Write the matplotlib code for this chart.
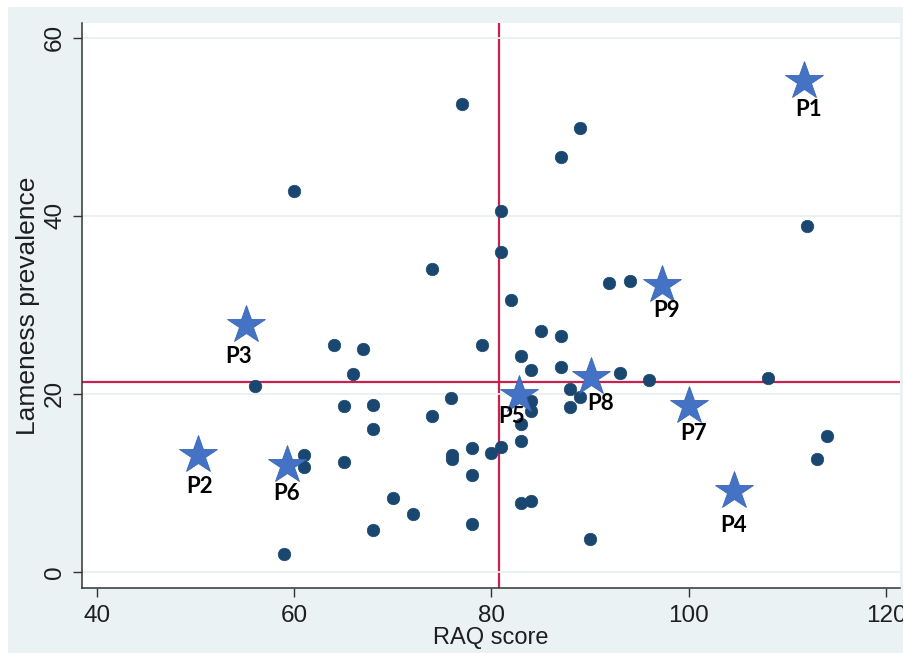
import matplotlib
matplotlib.use("Agg")
import matplotlib.pyplot as plt
from matplotlib.patches import Rectangle

# ---- data ----
raq_score = [77.0, 89.0, 87.0, 60.0, 81.0, 112.0, 81.0, 74.0, 91.9, 94.0,
             82.0, 85.0, 87.0, 64.0, 67.0, 79.0, 83.0, 66.0, 84.0, 87.0,
             93.0, 96.0, 108.0, 56.0, 88.0, 89.0, 88.0, 84.0, 84.0, 83.0,
             83.0, 75.9, 74.0, 65.0, 68.0, 68.0, 61.0, 61.0, 65.0, 76.0,
             76.0, 78.0, 80.0, 81.0, 78.0, 70.0, 72.0, 68.0, 78.0, 83.0,
             84.0, 90.0, 59.0, 114.0, 113.0]
lameness = [52.6, 49.9, 46.6, 42.8, 40.5, 38.9, 35.9, 34.0, 32.5, 32.7,
            30.5, 27.1, 26.5, 25.5, 25.0, 25.5, 24.3, 22.2, 22.7, 23.0,
            22.4, 21.6, 21.8, 20.9, 20.5, 19.6, 18.5, 19.2, 18.1, 16.6,
            14.7, 19.5, 17.5, 18.6, 18.8, 16.0, 13.1, 11.8, 12.4, 13.1,
            12.7, 13.9, 13.4, 14.0, 10.9, 8.3, 6.5, 4.7, 5.4, 7.8,
            8.0, 3.7, 2.0, 15.3, 12.7]

star_labels = ["P1", "P2", "P3", "P4", "P5", "P6", "P7", "P8", "P9"]
star_raq = [111.7, 50.2, 55.1, 104.6, 82.8, 59.3, 100.0, 90.1, 97.3]
star_lameness = [55.1, 13.1, 27.7, 9.1, 19.9, 12.0, 18.6, 21.9, 32.2]

raq_cut = 80.8
lameness_cut = 21.3

x_ticks = [40, 60, 80, 100, 120]
y_ticks = [0, 20, 40, 60]

# label offsets (pixels, label centre relative to star)
label_offsets = {"P1": (4, -27), "P2": (2, -30), "P3": (-7, -30), "P4": (-1, -33),
                 "P5": (-8, -20), "P6": (-1, -27), "P7": (5, -26), "P8": (10, -25),
                 "P9": (4, -24)}

W, H = 904, 653
fig = plt.figure(figsize=(W / 100, H / 100), dpi=100)
fig.patch.set_facecolor("white")
bg = Rectangle((8 / W, 0), 1 - 8 / W, (H - 7) / H, transform=fig.transFigure,
               facecolor="#eaf2f3", edgecolor="none", zorder=-10)
fig.add_artist(bg)

ax = fig.add_axes([82 / W, 65 / H, 818 / W, 565 / H])
ax.set_zorder(1)
ax.set_facecolor("white")

ax.set_xlim(38.48, 121.42)
ax.set_ylim(-1.80, 61.65)

ax.set_yticks(y_ticks)
ax.set_xticks(x_ticks)
ax.grid(axis="y", color="#e9f0f2", lw=1.3, zorder=0)
ax.grid(axis="x", visible=False)

ax.axvline(raq_cut, color="#c8234e", lw=1.6, zorder=1)
ax.axhline(lameness_cut, color="#c8234e", lw=1.6, zorder=1)

ax.plot(raq_score, lameness, "o", ms=9, color="#1a476f", mec="#1a476f",
        mew=0.5, zorder=3, linestyle="none")
ax.plot(star_raq, star_lameness, "*", ms=29, color="#4472c4", mec="#3a66b5",
        mew=0.6, zorder=4, linestyle="none")

for lab, xv, yv in zip(star_labels, star_raq, star_lameness):
    dx, dy = label_offsets[lab]
    ax.annotate(lab, (xv, yv), xytext=(dx, dy - 8), textcoords="offset pixels",
                ha="center", va="baseline", fontsize=16, fontweight="bold",
                family="Lato", color="black", zorder=5)

for s in ["top", "right"]:
    ax.spines[s].set_visible(False)
for s in ["left", "bottom"]:
    ax.spines[s].set_color("#333333")
    ax.spines[s].set_linewidth(1.1)

ax.tick_params(axis="both", direction="out", length=6.5, width=1.0,
               color="#333333", labelsize=17.5, labelcolor="#1e1e1e", pad=6)
ax.tick_params(axis="y", pad=5)
for t in ax.get_xticklabels() + ax.get_yticklabels():
    t.set_family("Liberation Sans")
for t in ax.get_yticklabels():
    t.set_rotation(90)
    t.set_va("center")

ax.set_xlabel("RAQ score", fontsize=17, family="Liberation Sans", color="#1e1e1e", labelpad=0)
ax.set_ylabel("Lameness prevalence", fontsize=19, family="Liberation Sans", color="#1e1e1e", labelpad=3)

fig.savefig("out.png", dpi=100)
